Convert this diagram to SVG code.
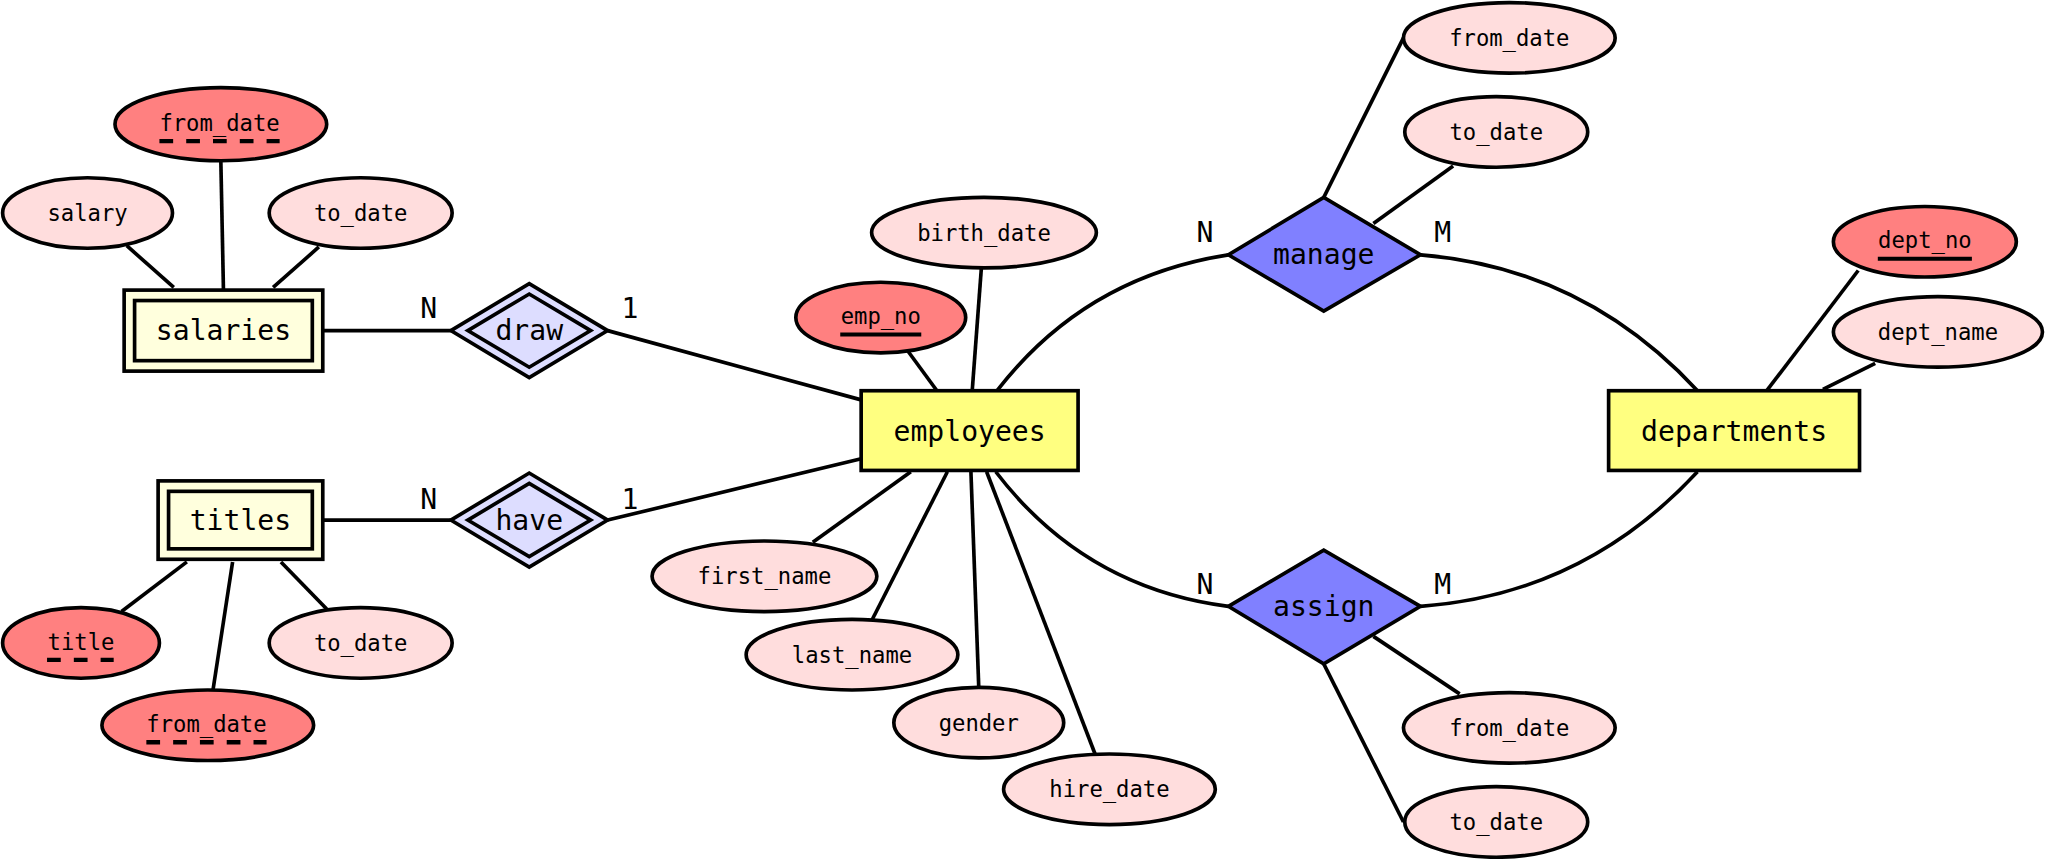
<svg xmlns="http://www.w3.org/2000/svg" width="2049" height="859" viewBox="0 0 2049 859">
<style>
.ln{fill:none;stroke:#000;stroke-width:2.8}
.attr{fill:#ffdddd;stroke:#000;stroke-width:2.8}
.key{fill:#ff8080;stroke:#000;stroke-width:2.8}
.ent{fill:#ffff80;stroke:#000;stroke-width:2.8}
.went{fill:#ffffdd;stroke:#000;stroke-width:2.8}
.rel{fill:#8080ff;stroke:#000;stroke-width:2.8}
.wrel{fill:#ddddff;stroke:#000;stroke-width:2.8}
.ul{stroke:#000;stroke-width:3.2}
.dul{stroke:#000;stroke-width:3.3;stroke-dasharray:10.5,10}
text{font-family:"DejaVu Sans Mono","Liberation Mono",monospace;fill:#000;text-anchor:middle;dominant-baseline:central}
.t1{font-size:17px}
.t2{font-size:21.5px}
</style>
<rect width="2049" height="859" fill="#fff"/>
<g transform="scale(1.30676)">
<g id="connectors">
<line class="ln" x1="97" y1="188" x2="133" y2="220"/>
<line class="ln" x1="169" y1="123" x2="171" y2="222"/>
<line class="ln" x1="244" y1="189" x2="209" y2="220"/>
<line class="ln" x1="247" y1="253" x2="345" y2="253"/>
<line class="ln" x1="465" y1="253" x2="659" y2="306"/>
<line class="ln" x1="247" y1="398" x2="345" y2="398"/>
<line class="ln" x1="465" y1="398" x2="659" y2="351"/>
<line class="ln" x1="143" y1="430" x2="93" y2="468"/>
<line class="ln" x1="178" y1="430" x2="163" y2="528"/>
<line class="ln" x1="215" y1="430" x2="250" y2="466"/>
<line class="ln" x1="695" y1="269" x2="717" y2="299"/>
<line class="ln" x1="751" y1="205" x2="744" y2="299"/>
<line class="ln" x1="697" y1="361" x2="622" y2="415"/>
<line class="ln" x1="725" y1="361" x2="667" y2="475"/>
<line class="ln" x1="743" y1="361" x2="749" y2="526"/>
<line class="ln" x1="755" y1="361" x2="838" y2="577"/>
<path class="ln" d="M763,299 Q830,212 940,195"/>
<path class="ln" d="M1087,195 Q1212,205 1299,299"/>
<path class="ln" d="M762,361 Q830,450 940,464"/>
<path class="ln" d="M1299,361 Q1212,455 1087,464"/>
<line class="ln" x1="1013" y1="151" x2="1074" y2="29"/>
<line class="ln" x1="1051" y1="171" x2="1112" y2="127"/>
<line class="ln" x1="1051" y1="487" x2="1117" y2="531"/>
<line class="ln" x1="1013" y1="508" x2="1074" y2="629"/>
<line class="ln" x1="1422" y1="207" x2="1352" y2="299"/>
<line class="ln" x1="1435" y1="278" x2="1395" y2="298"/>
<text class="t2" x="328" y="236">N</text>
<text class="t2" x="482" y="236">1</text>
<text class="t2" x="328" y="382">N</text>
<text class="t2" x="482" y="382">1</text>
<text class="t2" x="922" y="178">N</text>
<text class="t2" x="1104" y="178">M</text>
<text class="t2" x="922" y="447">N</text>
<text class="t2" x="1104" y="447">M</text>
</g>
<g id="salaries">
<rect class="went" x="95" y="222" width="152" height="62"/>
<rect class="went" x="103" y="230" width="136" height="46"/>
<text class="t2" x="171" y="253">salaries</text>
</g>
<g id="salaries_from_date">
<ellipse class="key" cx="169" cy="95" rx="81" ry="28"/>
<text class="t1" x="168" y="94">from_date</text>
<line class="dul" x1="122" y1="108" x2="214" y2="108"/>
</g>
<g id="salary">
<ellipse class="attr" cx="67" cy="163" rx="65" ry="27"/>
<text class="t1" x="67" y="163">salary</text>
</g>
<g id="salaries_to_date">
<ellipse class="attr" cx="276" cy="163" rx="70" ry="27"/>
<text class="t1" x="276" y="163">to_date</text>
</g>
<g id="draw">
<polygon class="wrel" points="345,253 405,217 465,253 405,289"/>
<polygon class="wrel" points="358,253 405,225 452,253 405,281"/>
<text class="t2" x="405" y="253">draw</text>
</g>
<g id="titles">
<rect class="went" x="121" y="368" width="126" height="60"/>
<rect class="went" x="129" y="376" width="110" height="44"/>
<text class="t2" x="184" y="398">titles</text>
</g>
<g id="have">
<polygon class="wrel" points="345,398 405,362 465,398 405,434"/>
<polygon class="wrel" points="358,398 405,370 452,398 405,426"/>
<text class="t2" x="405" y="398">have</text>
</g>
<g id="title">
<ellipse class="key" cx="62" cy="492" rx="60" ry="27"/>
<text class="t1" x="62" y="491">title</text>
<line class="dul" x1="36" y1="505" x2="87" y2="505"/>
</g>
<g id="titles_from_date">
<ellipse class="key" cx="159" cy="555" rx="81" ry="27"/>
<text class="t1" x="158" y="554">from_date</text>
<line class="dul" x1="112" y1="568" x2="204" y2="568"/>
</g>
<g id="titles_to_date">
<ellipse class="attr" cx="276" cy="492" rx="70" ry="27"/>
<text class="t1" x="276" y="492">to_date</text>
</g>
<g id="employees">
<rect class="ent" x="659" y="299" width="166" height="61"/>
<text class="t2" x="742" y="330">employees</text>
</g>
<g id="birth_date">
<ellipse class="attr" cx="753" cy="178" rx="86" ry="27"/>
<text class="t1" x="753" y="178">birth_date</text>
</g>
<g id="emp_no">
<ellipse class="key" cx="674" cy="243" rx="65" ry="27"/>
<text class="t1" x="674" y="242">emp_no</text>
<line class="ul" x1="643" y1="256" x2="705" y2="256"/>
</g>
<g id="first_name">
<ellipse class="attr" cx="585" cy="441" rx="86" ry="27"/>
<text class="t1" x="585" y="441">first_name</text>
</g>
<g id="last_name">
<ellipse class="attr" cx="652" cy="501" rx="81" ry="27"/>
<text class="t1" x="652" y="501">last_name</text>
</g>
<g id="gender">
<ellipse class="attr" cx="749" cy="553" rx="65" ry="27"/>
<text class="t1" x="749" y="553">gender</text>
</g>
<g id="hire_date">
<ellipse class="attr" cx="849" cy="604" rx="81" ry="27"/>
<text class="t1" x="849" y="604">hire_date</text>
</g>
<g id="manage">
<polygon class="rel" points="940,195 1013,151 1087,195 1013,238"/>
<text class="t2" x="1013" y="195">manage</text>
</g>
<g id="manage_from_date">
<ellipse class="attr" cx="1155" cy="29" rx="81" ry="27"/>
<text class="t1" x="1155" y="29">from_date</text>
</g>
<g id="manage_to_date">
<ellipse class="attr" cx="1145" cy="101" rx="70" ry="27"/>
<text class="t1" x="1145" y="101">to_date</text>
</g>
<g id="assign">
<polygon class="rel" points="940,464 1013,421 1087,464 1013,508"/>
<text class="t2" x="1013" y="464">assign</text>
</g>
<g id="assign_from_date">
<ellipse class="attr" cx="1155" cy="557" rx="81" ry="27"/>
<text class="t1" x="1155" y="557">from_date</text>
</g>
<g id="assign_to_date">
<ellipse class="attr" cx="1145" cy="629" rx="70" ry="27"/>
<text class="t1" x="1145" y="629">to_date</text>
</g>
<g id="departments">
<rect class="ent" x="1231" y="299" width="192" height="61"/>
<text class="t2" x="1327" y="330">departments</text>
</g>
<g id="dept_no">
<ellipse class="key" cx="1473" cy="185" rx="70" ry="27"/>
<text class="t1" x="1473" y="184">dept_no</text>
<line class="ul" x1="1437" y1="198" x2="1509" y2="198"/>
</g>
<g id="dept_name">
<ellipse class="attr" cx="1483" cy="254" rx="80" ry="27"/>
<text class="t1" x="1483" y="254">dept_name</text>
</g>
</g>
</svg>
